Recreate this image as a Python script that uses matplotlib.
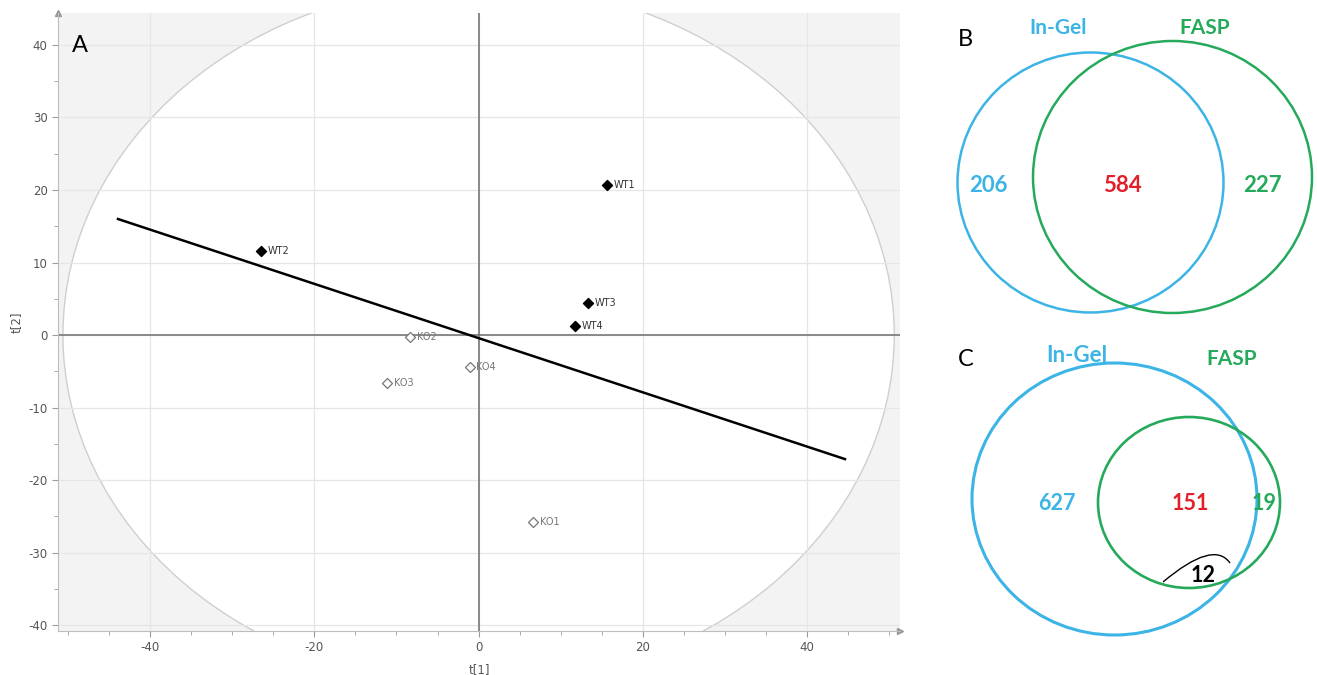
"""PCA score plot (panel A) with two Venn diagrams (panels B and C)."""

import matplotlib.pyplot as plt
from matplotlib.patches import Ellipse, PathPatch
from matplotlib.path import Path
from matplotlib.ticker import MultipleLocator

plt.rcParams["axes.unicode_minus"] = False

# Panel A: PCA scores t[1], t[2]
wt_labels = ["WT1", "WT2", "WT3", "WT4"]
wt_t1 = [15.6, -26.5, 13.3, 11.7]
wt_t2 = [20.7, 11.6, 4.4, 1.2]
ko_labels = ["KO1", "KO2", "KO3", "KO4"]
ko_t1 = [6.6, -8.4, -11.1, -1.1]
ko_t2 = [-25.8, -0.3, -6.6, -4.4]
# regression-like line end points and Hotelling ellipse half-axes
line_t1 = [-43.9, 44.6]
line_t2 = [16.0, -17.1]
ellipse_axes = (50.6, 48.5)

# Panels B and C: protein counts (In-Gel only, shared, FASP only)
venn_b = [206, 584, 227]
venn_c = [627, 151, 19, 12]
set_names = ["In-Gel", "FASP"]

BLUE = "#3cb4e5"
GREEN = "#25a95a"
RED = "#e3202a"
GRAY = "#555555"

W, H = 1317, 675
fig = plt.figure(figsize=(W / 100, H / 100), dpi=100)

# ---------------- panel A ----------------
ax = fig.add_axes([58 / W, 1 - 631 / H, (900 - 58) / W, (631 - 13) / H])
ax.set_xlim(-51.2, 51.3)
ax.set_ylim(-40.8, 44.4)
ax.set_facecolor("#f3f3f3")
ax.add_patch(Ellipse((0, 0), 2 * ellipse_axes[0], 2 * ellipse_axes[1],
                     facecolor="white", edgecolor="#cfcfcf", lw=1.0, zorder=0.2))
ax.set_axisbelow(True)
ax.xaxis.set_major_locator(MultipleLocator(20))
ax.yaxis.set_major_locator(MultipleLocator(10))
ax.xaxis.set_minor_locator(MultipleLocator(5))
ax.yaxis.set_minor_locator(MultipleLocator(5))
ax.grid(True, which="major", color="#e6e6e6", lw=0.9)
for side in ("top", "right"):
    ax.spines[side].set_visible(False)
for side in ("left", "bottom"):
    ax.spines[side].set_color("#bdbdbd")
ax.tick_params(which="both", colors="#9a9a9a", labelcolor=GRAY, labelsize=8.5)
ax.tick_params(which="major", length=4)
ax.tick_params(which="minor", length=3)
ax.plot(1, 0, ">", color="#9a9a9a", ms=5, transform=ax.transAxes, clip_on=False)
ax.plot(0, 1, "^", color="#9a9a9a", ms=5, transform=ax.transAxes, clip_on=False)

ax.axhline(0, color="#6e6e6e", lw=1.1, zorder=1)
ax.axvline(0, color="#6e6e6e", lw=1.1, zorder=1)
ax.plot(line_t1, line_t2, color="black", lw=1.8, zorder=2)

ax.scatter(wt_t1, wt_t2, marker="D", s=26, color="black", zorder=3)
ax.scatter(ko_t1, ko_t2, marker="D", s=26, facecolor="white",
           edgecolor="#777777", lw=0.9, zorder=3)
for lab, x, y in zip(wt_labels, wt_t1, wt_t2):
    ax.annotate(lab, (x, y), xytext=(5, 0), textcoords="offset points",
                va="center", fontsize=7, color="#333333")
for lab, x, y in zip(ko_labels, ko_t1, ko_t2):
    ax.annotate(lab, (x, y), xytext=(5, 0), textcoords="offset points",
                va="center", fontsize=7, color="#777777")

ax.set_xlabel("t[1]", fontsize=8.5, color=GRAY, labelpad=6)
ax.set_ylabel("t[2]", fontsize=8.5, color=GRAY)
ax.yaxis.set_label_coords(-0.042, 0.5)
fig.text(72 / W, 1 - 45 / H, "A", fontsize=17, va="center", family="Lato")

# ---------------- panels B and C (pixel coordinates) ----------------
av = fig.add_axes([940 / W, 0, 377 / W, 1])
av.set_xlim(940, 1317)
av.set_ylim(675, 0)
av.axis("off")

bold = dict(family="Lato", fontweight="bold", ha="center", va="center")

# B
av.add_patch(Ellipse((1090.5, 182.5), 266, 260, fill=False, edgecolor=BLUE, lw=1.8))
av.add_patch(Ellipse((1172.5, 177), 279, 272, fill=False, edgecolor=GREEN, lw=1.8))
av.text(965, 40, "B", fontsize=17, family="Lato", ha="center", va="center")
av.text(1058, 28, set_names[0], color=BLUE, fontsize=15, **bold)
av.text(1205, 28, set_names[1], color=GREEN, fontsize=15, **bold)
av.text(988, 185, str(venn_b[0]), color=BLUE, fontsize=16, **bold)
av.text(1122, 185, str(venn_b[1]), color=RED, fontsize=16, **bold)
av.text(1262, 185, str(venn_b[2]), color=GREEN, fontsize=16, **bold)

# C
av.add_patch(Ellipse((1114.5, 499), 285, 272, fill=False, edgecolor=BLUE, lw=2.2))
av.add_patch(Ellipse((1189, 502.5), 182, 171, fill=False, edgecolor=GREEN, lw=1.9))
arc = Path([(1163, 582), (1213.5, 539.5), (1230, 563)],
           [Path.MOVETO, Path.CURVE3, Path.CURVE3])
av.add_patch(PathPatch(arc, fill=False, edgecolor="black", lw=1.0))
av.text(966, 360, "C", fontsize=17, family="Lato", ha="center", va="center")
av.text(1077, 355, set_names[0], color=BLUE, fontsize=16, **bold)
av.text(1232, 359, set_names[1], color=GREEN, fontsize=15, **bold)
av.text(1057, 503, str(venn_c[0]), color=BLUE, fontsize=15.5, **bold)
av.text(1190, 503, str(venn_c[1]), color=RED, fontsize=15.5, **bold)
av.text(1264, 503, str(venn_c[2]), color=GREEN, fontsize=15.5, **bold)
av.text(1203, 575, str(venn_c[3]), color="black", fontsize=15.5, **bold)

fig.savefig("out.png", dpi=100, facecolor="white")
